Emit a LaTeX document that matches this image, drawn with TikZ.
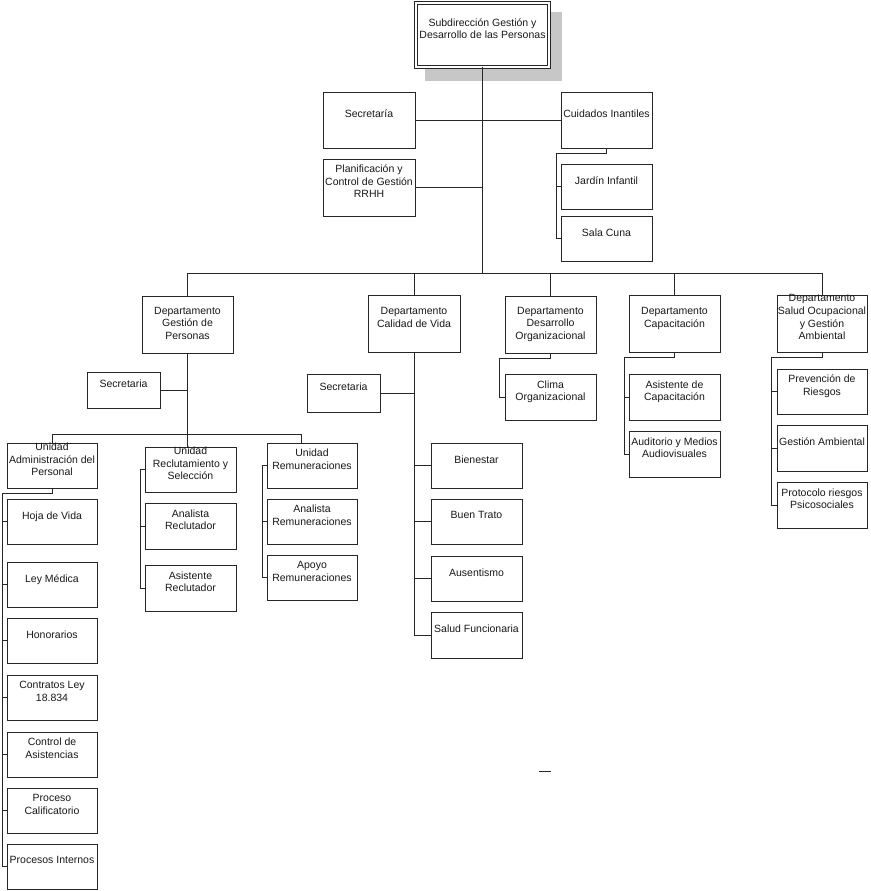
\documentclass[tikz,border=0pt]{standalone}
\usepackage{fontspec}
\setmainfont{Liberation Sans}
\usetikzlibrary{positioning, backgrounds}
\newcommand{\tailline}{\\[-4pt]\strut}
\tikzset{
unit/.style={
    rectangle,
    draw=black!85,
    line width=0.8pt,
    fill=white,
    text=black!90,
    minimum width=90pt,
    minimum height=45pt,
    inner xsep=0pt,
    inner ysep=-6pt,
    outer sep=0pt,
    align=center,
    font=\fontsize{10.5}{12.7}\selectfont,
    execute at begin node=\strut,
    execute at end node=\strut
},
dept/.style={unit, minimum height=57pt},
link/.style={draw=black!85, line width=0.9pt}
}

\begin{document}
\begin{tikzpicture}[
        x=1pt, y=-1pt,
        node distance=11pt
    ]
    \useasboundingbox (0,0) rectangle (870,891);

    % top level
    \node[unit, minimum width=133pt, minimum height=64pt, double, double distance=2.4pt,
          line width=0.8pt] (sub) at (482.5,35) {Subdirección Gestión y\\Desarrollo de las Personas\tailline};
    \node[dept, minimum width=92pt, minimum height=56pt] (secr) at (369,120) {Secretaría\tailline};
    \node[dept, minimum width=91pt, minimum height=56pt] (cuid) at (606.5,120) {Cuidados Inantiles\tailline};
    \node[dept, minimum width=92pt] (plan) at (369,187.5) {Planificación y\\Control de Gestión\\RRHH\tailline};
    \node[unit, minimum width=91pt] (jard) at (606.5,186.5) {Jardín Infantil\tailline};
    \node[unit, minimum width=91pt] (sala) at (606.5,238.5) {Sala Cuna\tailline};

    % departamentos
    \node[dept, minimum width=91pt] (dgp) at (187.5,325) {Departamento\\Gestión de\\Personas};
    \node[dept, minimum width=92pt] (dcv) at (414,323.5) {Departamento\\Calidad de Vida\tailline};
    \node[dept, minimum width=91pt] (ddo) at (550.5,325) {Departamento\\Desarrollo\\Organizacional};
    \node[dept, minimum width=91pt] (dcap) at (674.5,323.5) {Departamento\\Capacitación\tailline};
    \node[dept] (dso) at (822,323.5) {Departamento\\Salud Ocupacional\\y Gestión\\Ambiental\tailline};

    % gestion de personas
    \node[unit, minimum width=73pt, minimum height=36pt] (secgp) at (123.5,390) {Secretaria\tailline};
    \node[unit] (uadm) at (52,465.5) {Unidad\\Administración del\\Personal\tailline};
    \node[unit, below=of uadm] (hoja) {Hoja de Vida\tailline};
    \node[unit, below=18pt of hoja] (ley) {Ley Médica\tailline};
    \node[unit, below=of ley] (hon) {Honorarios\tailline};
    \node[unit, below=12pt of hon] (cont) {Contratos Ley\\18.834\tailline};
    \node[unit, below=12pt of cont] (ctrl) {Control de\\Asistencias\tailline};
    \node[unit, below=of ctrl] (proc) {Proceso\\Calificatorio\tailline};
    \node[unit, below=of proc] (pint) {Procesos Internos\tailline};

    \node[unit, minimum width=91pt] (urec) at (190.5,469.5) {Unidad\\Reclutamiento y\\Selección\tailline};
    \node[unit, minimum width=91pt, minimum height=46pt, below=of urec] (anrec) {Analista\\Reclutador\tailline};
    \node[unit, minimum width=91pt, minimum height=46pt, below=16pt of anrec] (asrec) {Asistente\\Reclutador\tailline};

    \node[unit] (urem) at (312,465.5) {Unidad\\Remuneraciones\tailline};
    \node[unit, below=of urem] (anrem) {Analista\\Remuneraciones\tailline};
    \node[unit, below=of anrem] (apoyo) {Apoyo\\Remuneraciones\tailline};

    % calidad de vida
    \node[unit, minimum width=73pt, minimum height=38pt] (seccv) at (343.5,393) {Secretaria\tailline};
    \node[unit, minimum width=91pt] (bien) at (476.5,465.5) {Bienestar\tailline};
    \node[unit, minimum width=91pt, below=of bien] (buen) {Buen Trato\tailline};
    \node[unit, minimum width=91pt, below=12pt of buen] (aus) {Ausentismo\tailline};
    \node[unit, minimum width=91pt, minimum height=46pt, below=of aus] (salf) {Salud Funcionaria\tailline};

    % desarrollo, capacitacion, salud ocupacional
    \node[unit, minimum width=91pt, minimum height=46pt] (clima) at (550.5,397) {Clima\\Organizacional\tailline};
    \node[unit, minimum width=91pt, minimum height=46pt] (ascap) at (674.5,397) {Asistente de\\Capacitación\tailline};
    \node[unit, minimum width=91pt, minimum height=46pt, below=of ascap] (aud) {Auditorio y Medios\\Audiovisuales\tailline};
    \node[unit] (prev) at (822,391.5) {Prevención de\\Riesgos\tailline};
    \node[unit, minimum height=46pt, below=of prev] (gamb) {Gestión Ambiental\tailline};
    \node[unit, minimum height=46pt, below=of gamb] (prot) {Protocolo riesgos\\Psicosociales\tailline};

    % shadow of the top box
    \begin{scope}[on background layer]
        \fill[black!22] (425,12) rectangle (562,81);
    \end{scope}

    % connectors
    \coordinate (bus) at (0,273);
    \coordinate (ubus) at (0,434);
    \draw[link] (sub.south) -- (sub.south |- bus);
    \draw[link] (secr.east) -- (cuid.west);
    \draw[link] (plan.east) -- (plan.east -| sub.south);
    \draw[link] (cuid.south) -- ++(0,5) -| ([xshift=-5pt]sala.west) -- (sala.west);
    \draw[link] (jard.west) -- ++(-5,0);

    \draw[link] (dcv.north) -- (dcv.north |- bus) -| (dso.north);
    \draw[link] (dcv.north |- bus) -| (dgp.north);
    \foreach \d in {ddo, dcap}
        \draw[link] (\d.north) -- (\d.north |- bus);

    \draw[link] (dgp.south) -- (dgp.south |- urec.north);
    \draw[link] (secgp.east) -- (secgp.east -| dgp.south);
    \draw[link] (uadm.north) -- (uadm.north |- ubus) -| ([xshift=-11pt]urem.north);
    \draw[link] (uadm.south) -- ++(0,5) -| ([xshift=-5pt]pint.west) -- (pint.west);
    \foreach \n in {hoja, ley, hon, cont, ctrl, proc}
        \draw[link] (\n.west) -- ++(-5,0);
    \draw[link] (urec.west) -- ++(-5,0) |- (asrec.west);
    \draw[link] (anrec.west) -- ++(-5,0);
    \draw[link] (urem.west) -- ++(-5,0) |- (apoyo.west);
    \draw[link] (anrem.west) -- ++(-5,0);

    \draw[link] (dcv.south) |- (salf.west);
    \draw[link] (seccv.east) -- (seccv.east -| dcv.south);
    \foreach \n in {bien, buen, aus}
        \draw[link] (\n.west) -- (\n.west -| dcv.south);

    \draw[link] (ddo.south) -- ++(0,5) -| ([xshift=-6pt]clima.west) -- (clima.west);
    \draw[link] (dcap.south) -- ++(0,5) -| ([xshift=-5pt]aud.west) -- (aud.west);
    \draw[link] (ascap.west) -- ++(-5,0);
    \draw[link] (dso.south) -- ++(0,5) -| ([xshift=-6pt]prot.west) -- (prot.west);
    \foreach \n in {prev, gamb}
        \draw[link] (\n.west) -- ++(-6,0);

    % stray mark
    \draw[link] (539,771) -- (551,771);

\end{tikzpicture}
\end{document}
